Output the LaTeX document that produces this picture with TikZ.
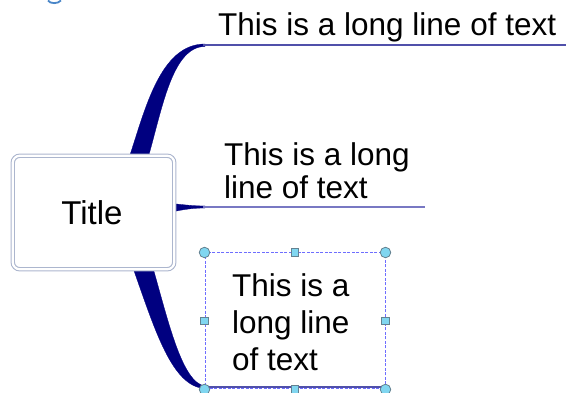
\documentclass[tikz,border=0pt]{standalone}
\usepackage{fontspec}
\setmainfont{Liberation Sans}
\definecolor{navy}{RGB}{0,0,128}
\definecolor{branchline}{RGB}{80,80,170}
\definecolor{midline}{RGB}{120,120,195}
\definecolor{boxcol}{RGB}{172,182,206}
\definecolor{selcol}{RGB}{110,110,255}
\definecolor{handlefill}{RGB}{128,214,240}
\definecolor{handledraw}{RGB}{100,130,145}
\definecolor{headblue}{RGB}{74,134,200}
\tikzset{
  bigtext/.style={font=\fontsize{31.5}{33}\selectfont, inner sep=0pt, text=black},
  taper/.style={fill=navy, draw=navy, line width=0.3pt},
  thinline/.style={draw=branchline, line width=1.8pt},
  titlebox/.style={draw=boxcol, double=white, double distance=2.2pt, line width=1.1pt,
    rounded corners=7pt, fill=white, minimum width=161.5pt, minimum height=113.5pt, inner sep=0pt},
  selbox/.style={draw=selcol, dash pattern=on 3pt off 1.5pt, line width=1pt,
    minimum width=180pt, minimum height=136pt, inner sep=0pt},
  cornerhandle/.style={circle, fill=handlefill, draw=handledraw, line width=0.8pt,
    minimum size=10.5pt, inner sep=0pt},
  edgehandle/.style={rectangle, fill=handlefill, draw=handledraw, line width=0.8pt,
    minimum size=7.5pt, inner sep=0pt}
}
\begin{document}
\begin{tikzpicture}[x=1pt,y=-1pt]
\useasboundingbox (0,0) rectangle (566,393);
% fragment of cropped heading
\draw[headblue, line width=1.8pt] (48,0.5) .. controls (50,4) and (58,4) .. (61,0.5);

% branch end coordinates
\coordinate (topstart) at (203,45);
\coordinate (topend) at (566,45);
\coordinate (midstart) at (203,207);
\coordinate (midend) at (425,207);
\coordinate (botstart) at (205,387);
\coordinate (botend) at (385,387);

% tapered branches
\fill[taper] (129,158) .. controls (145,110) and (160,44) .. (205,44)
  -- (205,46.5) .. controls (172,46.5) and (162,110) .. (148,158) -- cycle;
\fill[taper] (133,268) .. controls (155,330) and (172,387) .. (205,388.5)
  -- (205,386) .. controls (182,383) and (168,320) .. (153,268) -- cycle;
\fill[taper] (172,203.5) .. controls (185,205) and (195,206) .. (205,206)
  -- (205,208) .. controls (195,208) and (185,209) .. (172,212) -- cycle;

% thin lines
\draw[thinline] (topstart) -- (topend);
\draw[draw=midline, line width=1.8pt] (midstart) -- (midend);
\draw[thinline] (botstart) -- (botend);

% title box
\node[titlebox] (title) at (93.5,212.5) {};
\node[bigtext, anchor=base, font=\fontsize{33}{35}\selectfont] (titletext) at (92,225) {Title};

% texts
\node[bigtext, anchor=base west] (txt1) at (218,36) {This is a long line of text};
\node[bigtext, anchor=north west, align=left] (txt2) at (224,142)
  {This is a long\\line of text};
\node[bigtext, anchor=north west, align=left, font=\fontsize{31.5}{37}\selectfont] (txt3) at (232,273)
  {This is a\\long line\\of text};

% selection box with handles
\node[selbox] (sel) at (295,321) {};
\node[cornerhandle] (h1) at (sel.north west) {};
\node[cornerhandle] (h2) at (sel.north east) {};
\node[cornerhandle] (h3) at (sel.south west) {};
\node[cornerhandle] (h4) at (sel.south east) {};
\node[edgehandle] (h5) at (sel.north) {};
\node[edgehandle] (h6) at (sel.south) {};
\node[edgehandle] (h7) at (sel.west) {};
\node[edgehandle] (h8) at (sel.east) {};
\end{tikzpicture}
\end{document}
